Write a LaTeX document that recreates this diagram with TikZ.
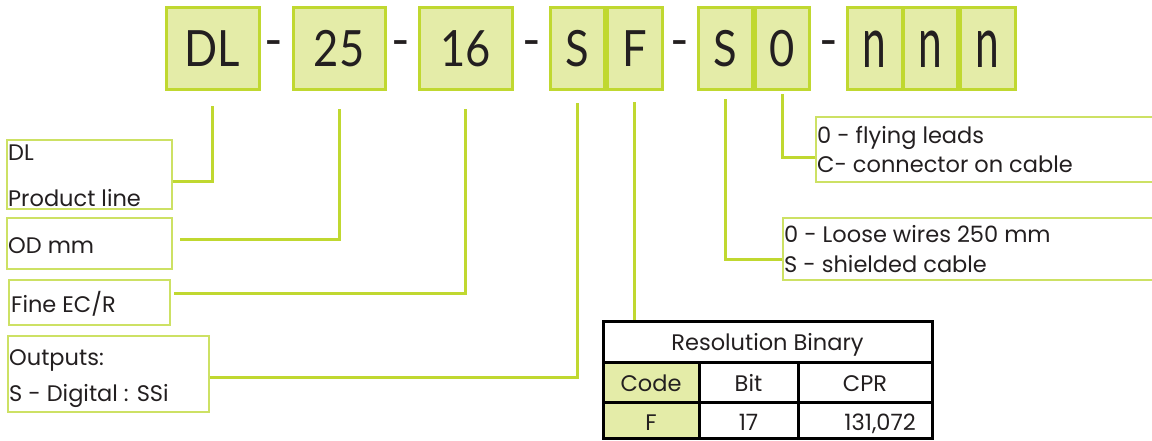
\documentclass[tikz,border=0pt]{standalone}
\usepackage{fontspec}
\usepackage{graphicx}
\setmainfont{Lato}
\newfontfamily\lblfont{Poppins}
\usetikzlibrary{calc}
\definecolor{cfill}{RGB}{228,236,168}
\definecolor{cline}{RGB}{192,216,48}
\definecolor{lline}{RGB}{205,225,100}
\definecolor{ink}{RGB}{35,31,32}
\newcommand{\topt}[1]{\scalebox{0.87}[1]{#1}}
\newcommand{\topn}{\scalebox{0.85}[1.42]{n}}
\begin{document}
\begin{tikzpicture}[x=1pt,y=-1pt,
  codebox/.style={draw=cline,line width=3pt,fill=cfill,inner sep=0pt,minimum height=82pt,text=ink,font=\fontsize{50}{50}\selectfont},
  dashtxt/.style={inner sep=0pt,text=ink,font=\fontsize{50}{50}\selectfont},
  lblbox/.style={draw=lline,line width=1.5pt,inner sep=0pt},
  lbl/.style={anchor=base west,inner sep=0pt,text=ink,font=\lblfont\fontsize{22.5}{22.5}\selectfont},
  conn/.style={draw=cline,line width=3pt},
  cell/.style={anchor=base,inner sep=0pt,text=ink,font=\lblfont\fontsize{22.5}{22.5}\selectfont}]
\useasboundingbox (0,0) rectangle (1152,441);

% top code boxes
\node[codebox,minimum width=93pt] (dl) at (212.5,49) {\topt{DL}};
\node[dashtxt] (d1) at (274,49) {-};
\node[codebox,minimum width=92pt] (od) at (339,49) {\topt{25}};
\node[dashtxt] (d2) at (401,49) {-};
\node[codebox,minimum width=93pt] (ec) at (465.5,49) {\topt{16}};
\node[dashtxt] (d3) at (532,49) {-};
\node[codebox,minimum width=54pt] (s1) at (577,49) {\topt{S}};
\node[codebox,minimum width=55pt] (f1) at (634.5,49) {\topt{F}};
\node[dashtxt] (d4) at (679.5,49) {-};
\node[codebox,minimum width=54pt] (s2) at (725,49) {\topt{S}};
\node[codebox,minimum width=54pt] (z0) at (782,49) {\topt{0}};
\node[dashtxt] (d5) at (828.5,49) {-};
\node[codebox,minimum width=55pt] (n1) at (874.5,49) {\topn};
\node[codebox,minimum width=54pt] (n2) at (930,49) {\topn};
\node[codebox,minimum width=55pt] (n3) at (987.5,49) {\topn};

% left label boxes
\node[lblbox,minimum width=165pt,minimum height=69pt] (lbDL) at (89.5,174.5) {};
\node[lbl] (tDL1) at (8,161) {DL};
\node[lbl] (tDL2) at (8,207) {Product line};
\node[lblbox,minimum width=165pt,minimum height=51pt] (lbOD) at (89.5,243.5) {};
\node[lbl] (tOD) at (8,253) {OD mm};
\node[lblbox,minimum width=161pt,minimum height=45pt] (lbEC) at (89.5,302.5) {};
\node[lbl] (tEC) at (11,312) {Fine EC/R};
\node[lblbox,minimum width=201pt,minimum height=76pt] (lbOut) at (108.5,374) {};
\node[lbl] (tOut1) at (9,365) {Outputs:};
\node[lbl] (tOut2) at (9,401) {S - Digital : SSi};

% right label boxes
\node[lblbox,minimum width=340pt,minimum height=65pt] (lbFly) at (986,149.5) {};
\node[lbl] (tFly1) at (817,144) {0 - flying leads};
\node[lbl] (tFly2) at (817,173) {C- connector on cable};
\node[lblbox,minimum width=373pt,minimum height=62pt] (lbLoose) at (969.5,249) {};
\node[lbl] (tL1) at (784,242) {0 - Loose wires 250 mm};
\node[lbl] (tL2) at (784,272) {S - shielded cable};

% table
\fill[cfill] (603,362) rectangle (699,438);
\draw[black,line width=3pt] (603,362) -- (932,362) (603,402) -- (932,402)
  (699,362) -- (699,438) (798,362) -- (798,438);
\node[draw=black,line width=3pt,minimum width=329pt,minimum height=117pt,inner sep=0pt] (tbl) at (767.5,379.5) {};
\node[cell] (tRes) at (767.5,350) {Resolution Binary};
\node[cell] (tCode) at (651,391) {Code};
\node[cell] (tBit) at (748.5,391) {Bit};
\node[cell] (tCPR) at (865,391) {CPR};
\node[cell] (tF) at (651,430) {F};
\node[cell] (t17) at (748.5,430) {17};
\node[cell,anchor=base east] (tCPRv) at (916,430) {131,072};

% connectors
\draw[conn] ([yshift=-15pt]dl.south) |- ([yshift=-7.5pt]lbDL.east);
\draw[conn] ([yshift=-18pt]od.south) |- ([xshift=7pt,yshift=4.5pt]lbOD.east);
\draw[conn] ([yshift=-18pt]ec.south) |- ([xshift=3pt,yshift=9.5pt]lbEC.east);
\draw[conn] ([yshift=-12pt]s1.south) |- ([yshift=-3pt]lbOut.east);
\draw[conn] ([yshift=-11pt]f1.south) -- (f1.south |- tbl.north);
\draw[conn] ([yshift=-8pt]s2.south) |- ([yshift=-10pt]lbLoose.west);
\draw[conn] ([yshift=-3pt]z0.south) |- ([yshift=-8.5pt]lbFly.west);
\end{tikzpicture}
\end{document}
